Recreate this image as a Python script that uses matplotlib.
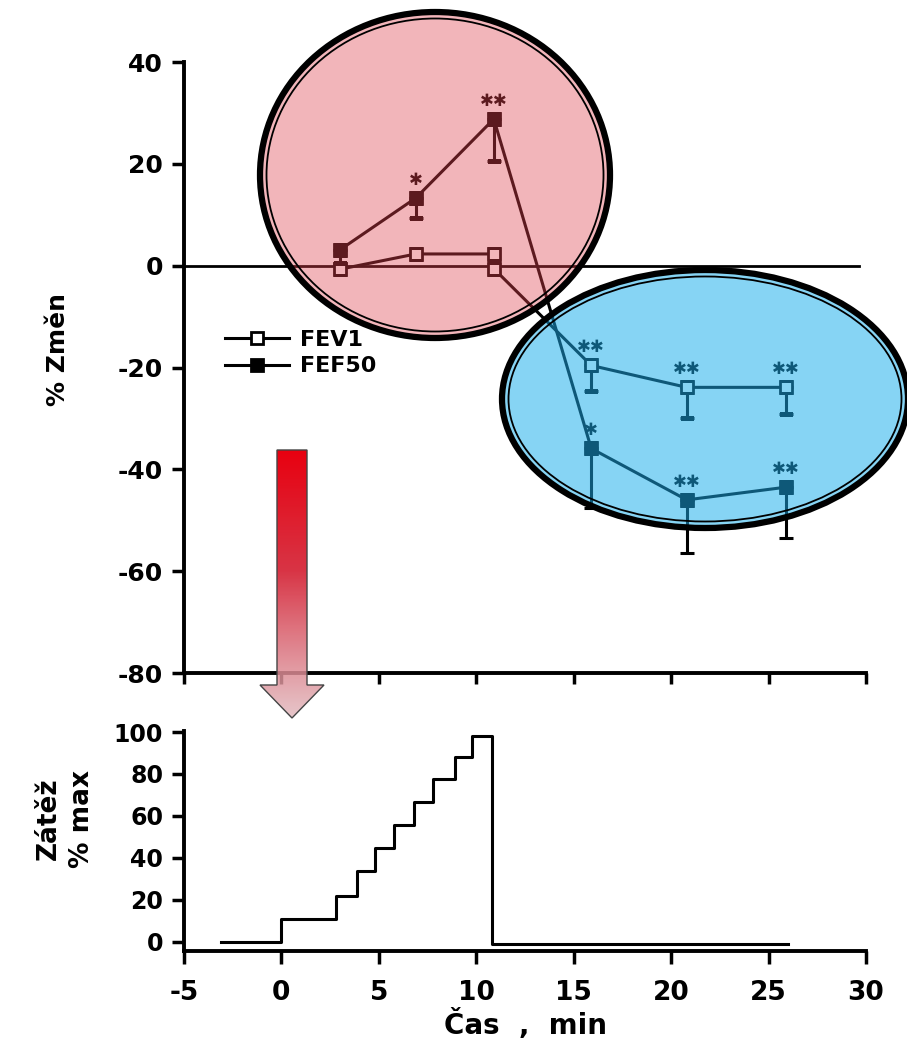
import numpy as np
import matplotlib.pyplot as plt
from matplotlib.patches import Ellipse, Polygon

plt.rcParams['font.family'] = ['DejaVu Sans']
plt.rcParams['font.weight'] = 'bold'
plt.rcParams['axes.labelweight'] = 'bold'
plt.rcParams['axes.unicode_minus'] = False

####DATA####
fev1_t = [3, 6.9, 10.9, 10.9, 15.9, 20.8, 25.9]
fev1 = [-0.7, 2.3, 2.3, -0.6, -19.6, -23.9, -23.9]
fev1_sd = [0, 0, 0, 0, 5.0, 6.0, 5.2]
fev1_sig = ['', '', '', '', '**', '**', '**']

fef50_t = [3, 6.9, 10.9, 15.9, 20.8, 25.9]
fef50 = [3.1, 13.3, 28.8, -35.9, -46.0, -43.5]
fef50_sd = [2.5, 4.0, 8.2, 11.6, 10.5, 10.0]
fef50_sig = ['', '*', '**', '*', '**', '**']

load_t = [-3.1, 0, 2.8, 3.9, 4.8, 5.8, 6.8, 7.8, 8.9, 9.8, 10.8, 26.0]
load = [0, 11, 21.7, 33.5, 44.6, 55.7, 66.8, 77.8, 88, 98, -1.3, -1.3]

xticks = [-5, 0, 5, 10, 15, 20, 25, 30]
yticks_top = [-80, -60, -40, -20, 0, 20, 40]
yticks_bot = [0, 20, 40, 60, 80, 100]

W, H = 907, 1051
fig = plt.figure(figsize=(W/100, H/100), dpi=100)

# pixel overlay axes (for highlight shapes and arrow)
ax_px = fig.add_axes([0, 0, 1, 1], zorder=10)
ax_px.axis('off')
ax_px.set_xlim(0, W)
ax_px.set_ylim(H, 0)

ax_top = fig.add_axes([184/W, 1-673/H, 682/W, 611/H])
ax_bot = fig.add_axes([184/W, 1-951/H, 682/W, 220/H])


def draw_top(ax, ink, face, z, clip=None, label=True):
    arts = [ax.axhline(0, xmax=0.99, color=ink, lw=2, zorder=z)]
    series = ((fev1_t, fev1, fev1_sd, face, 'FEV1'),
              (fef50_t, fef50, fef50_sd, ink, 'FEF50'))
    for t, v, sd, mfc, name in series:
        idx = [i for i, s in enumerate(sd) if s > 0]
        eb = ax.errorbar([t[i] for i in idx], [v[i] for i in idx],
                         yerr=[[sd[i] for i in idx], [0]*len(idx)], fmt='none',
                         ecolor=ink, elinewidth=2.2, capsize=5, capthick=2.2, zorder=z)
        arts += eb.get_children()
        arts += ax.plot(t, v, '-s', color=ink, mfc=mfc, mec=ink, mew=2, ms=8, lw=2.2,
                        zorder=z, label=name if label else '_nolegend_')
    if clip is not None:
        for a in arts:
            a.set_clip_path(clip)
    return arts


####Top panel####
draw_top(ax_top, 'black', 'white', 3)
ax_top.set_xlim(-5, 30)
ax_top.set_ylim(-80, 40)
ax_top.set_xticks(xticks)
ax_top.set_yticks(yticks_top)
ax_top.tick_params(axis='y', direction='out', length=9, width=2.5, labelsize=18, pad=6)
ax_top.tick_params(axis='x', direction='out', length=8, width=2.5, labelbottom=False)
for s in ['top', 'right']:
    ax_top.spines[s].set_visible(False)
for s in ['left', 'bottom']:
    ax_top.spines[s].set_linewidth(2.8)
ax_top.set_ylabel('% Změn', fontsize=18)
ax_top.yaxis.set_label_coords(-0.167, 0.529)
ax_top.legend(loc='upper left', bbox_to_anchor=(0.06, 0.562), frameon=False, fontsize=16,
              handlelength=2.9, handletextpad=0.5, labelspacing=0.3, numpoints=1,
              borderaxespad=0, borderpad=0)

# highlight ellipses: fill, tinted copy of the data, double border
highlights = [((435, 175), 177, 165, '#f2b5ba', '#5c1a1f'),
              ((705, 399), 205, 131, '#86d4f4', '#0e5878')]
clips = []
for (cx, cy), rx, ry, fill, ink in highlights:
    ax_top.add_patch(Ellipse((cx, cy), 2*rx, 2*ry, transform=ax_px.transData,
                             fc=fill, ec='none', clip_on=False, zorder=5))
    clip = Ellipse((cx, cy), 2*rx, 2*ry, transform=ax_px.transData)
    clips.append(clip)
    draw_top(ax_top, ink, fill, 6, clip=clip, label=False)
    ax_top.add_patch(Ellipse((cx, cy), 2*rx-4, 2*ry-4, transform=ax_px.transData,
                             fill=False, ec='black', lw=4.5, clip_on=False, zorder=7))
    ax_top.add_patch(Ellipse((cx, cy), 2*rx-17, 2*ry-17, transform=ax_px.transData,
                             fill=False, ec='black', lw=1.3, clip_on=False, zorder=7))

# significance stars, coloured by the highlight they sit in
star_off = 13
for t, v, sig in ((fev1_t, fev1, fev1_sig), (fef50_t, fef50, fef50_sig)):
    for ti, vi, s in zip(t, v, sig):
        if not s:
            continue
        x, y = ax_top.transData.transform((ti, vi))
        pt = (x, y + star_off * fig.dpi / 72)
        col = 'black'
        for hl, clip in zip(highlights, clips):
            if clip.contains_point(pt):
                col = hl[4]
        ax_top.annotate(s.replace('*', '\u2731'), (ti, vi), xytext=(0, star_off),
                        textcoords='offset points', ha='center', va='center',
                        fontsize=12, color=col, zorder=6.5)

####Bottom panel####
ax_bot.step(load_t, load, where='post', color='black', lw=2.2)
ax_bot.set_xlim(-5, 30)
ax_bot.set_ylim(-4.5, 100.5)
ax_bot.set_xticks(xticks)
ax_bot.set_yticks(yticks_bot)
ax_bot.tick_params(axis='y', direction='out', length=9, width=2.5, labelsize=17, pad=6)
ax_bot.tick_params(axis='x', direction='out', length=9, width=2.5, labelsize=19, pad=12)
for s in ['top', 'right']:
    ax_bot.spines[s].set_visible(False)
for s in ['left', 'bottom']:
    ax_bot.spines[s].set_linewidth(2.8)
ax_bot.set_ylabel('Zátěž\n% max', fontsize=19, linespacing=1.35)
ax_bot.yaxis.set_label_coords(-0.13, 0.6)
ax_bot.set_xlabel('Čas  ,  min', fontsize=20, labelpad=2)

####Gradient arrow####
arrow = [(277, 450), (307, 450), (307, 685), (324, 685), (292, 718), (260, 685), (277, 685)]
pos = np.linspace(0, 1, 200)
stops = [0, 0.45, 1]
rgba = np.stack([np.interp(pos, stops, [0.91, 0.84, 0.88]),
                 np.interp(pos, stops, [0.0, 0.16, 0.72]),
                 np.interp(pos, stops, [0.06, 0.23, 0.74]),
                 np.interp(pos, stops, [1.0, 0.95, 0.8])], axis=-1)[:, None, :]
im = ax_px.imshow(rgba, extent=(260, 325, 718, 450), aspect='auto', zorder=1)
poly = Polygon(arrow, closed=True, transform=ax_px.transData)
im.set_clip_path(poly)
ax_px.add_patch(Polygon(arrow, closed=True, fill=False, ec='#444444', lw=1, zorder=2))
ax_px.set_xlim(0, W)
ax_px.set_ylim(H, 0)

fig.savefig('out.png', dpi=100)
